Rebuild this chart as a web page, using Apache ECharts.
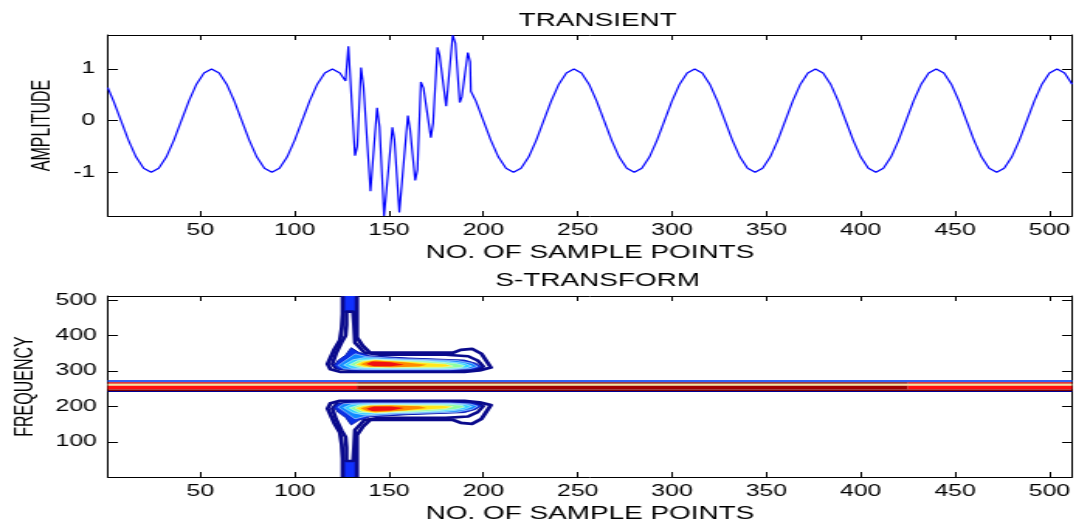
<!DOCTYPE html>
<html>
<head>
<meta charset="utf-8">
<script src="https://cdn.jsdelivr.net/npm/echarts@6/dist/echarts.min.js"></script>
<style>
html,body{margin:0;padding:0;background:#fff;overflow:hidden;}
#c{width:694px;height:527px;transform:scaleX(1.55043);transform-origin:0 0;}
</style>
</head>
<body>
<div id="c"></div>
<script>
// ---------- DATA ----------
const xTicks = [50,100,150,200,250,300,350,400,450,500];
const ampTicks = [-1,0,1];
const freqTicks = [100,200,300,400,500];

const sampleIdx = [1,4,8,12,16,20,24,28,32,36,40,44,48,52,56,60,64,68,72,76,80,84,88,92,96,100,104,108,112,116,120,124,127,
 128.5,132,133.2,135.2,136.5,140.2,143.7,145,147.4,151.8,152.9,155.5,160,161.2,163.9,165.1,166.9,168.3,172.2,173.4,175.7,176.8,180.3,183.8,185.2,187.5,188.6,191.8,193,193.4,
 196,200,204,208,212,216,220,224,228,232,236,240,244,248,252,256,260,264,268,272,276,280,284,288,292,296,300,304,308,312,316,320,324,
 328,332,336,340,344,348,352,356,360,364,368,372,376,380,384,388,392,396,400,404,408,412,416,420,424,428,432,436,440,444,448,452,
 456,460,464,468,472,476,480,484,488,492,496,500,504,508,512];
const amplitude = [0.64,0.383,0,-0.383,-0.707,-0.924,-1,-0.924,-0.707,-0.383,0,0.383,0.707,0.924,1,0.924,0.707,0.383,0,-0.383,-0.707,-0.924,-1,-0.924,-0.707,-0.383,0,0.383,0.707,0.924,1,0.924,0.77,
 1.44,-0.68,-0.50,1.03,0.66,-1.37,0.25,-0.12,-1.85,-0.13,-0.37,-1.78,0.10,-0.18,-1.16,-0.95,0.75,0.63,-0.33,-0.05,1.42,1.27,0.28,1.66,1.50,0.35,0.46,1.32,1.14,0.57,
 0.383,0,-0.383,-0.707,-0.924,-1,-0.924,-0.707,-0.383,0,0.383,0.707,0.924,1,0.924,0.707,0.383,0,-0.383,-0.707,-0.924,-1,-0.924,-0.707,-0.383,0,0.383,0.707,0.924,1,0.924,0.707,0.383,
 0,-0.383,-0.707,-0.924,-1,-0.924,-0.707,-0.383,0,0.383,0.707,0.924,1,0.924,0.707,0.383,0,-0.383,-0.707,-0.924,-1,-0.924,-0.707,-0.383,0,0.383,0.707,0.924,1,0.924,0.707,0.383,
 0,-0.383,-0.707,-0.924,-1,-0.924,-0.707,-0.383,0,0.383,0.707,0.924,1,0.924,0.707];

// S-transform contour outlines (sample, frequency)
const upOuter = [[125.5,516],[125.5,462],[125,420],[124,387],[121,361],[117.5,320],[119,305],[124,298],[140,298],[190,298],[198,302],[204,310],[199,349],[194,363],[188,360],[184,352],[140,352],[136,372],[133,395],[133,516]];
const upSecond = [[127.5,468],[127.5,430],[127,400],[125,382],[122,350],[120,320],[122,308],[130,303],[190,303],[198,307],[200,313],[197,330],[192,342],[180,346],[145,346],[137,352],[132,380],[131.5,430],[131,468]];
const upStem = [[125.5,516],[125.5,465],[133,465],[133,516]];
const upL3 = [[121,316],[123,306],[132,302],[182,302],[195,305],[199,312],[196,322],[190,331],[160,337],[140,343],[134,353],[130,366],[127,345],[123,330]];
const upL4 = [[123,316],[126,306],[135,304],[182,304],[193,307],[197,313],[194,322],[186,330],[155,335],[138,341],[132,349],[128,334]];
const upL5 = [[126,317],[130,308],[140,306],[183,306],[191,309],[194,314],[190,322],[180,328],[150,333],[137,338],[131,332]];
const upL6 = [[129,318],[134,310],[145,308],[183,308],[189,311],[190,316],[185,322],[170,328],[145,333],[134,331]];
const upL7 = [[132,318],[137,311],[148,310],[178,311],[184,314],[180,320],[160,327],[142,332],[136,328]];
const upL8 = [[135,319],[140,312],[152,311],[166,313],[170,318],[158,325],[143,330],[138,326]];
const upL9 = [[138,320],[142,314],[151,314],[158,318],[151,325],[141,327]];

const loOuter = [[125.5,-3],[125.5,52],[125,94],[124,127],[121,153],[117.5,194],[119,209],[124,216],[140,216],[190,216],[198,212],[204,204],[199,165],[194,151],[188,154],[184,162],[140,162],[136,142],[133,119],[133,-3]];
const loSecond = [[127.5,46],[127.5,84],[127,114],[125,132],[122,164],[120,194],[122,206],[130,211],[190,211],[198,207],[200,201],[197,184],[192,172],[180,168],[145,168],[137,162],[132,134],[131.5,84],[131,46]];
const loStem = [[125.5,-3],[125.5,49],[133,49],[133,-3]];
const loL3 = [[121,198],[123,208],[132,212],[182,212],[195,209],[199,202],[196,192],[190,183],[160,177],[140,171],[134,161],[130,148],[127,169],[123,184]];
const loL4 = [[123,198],[126,208],[135,210],[182,210],[193,207],[197,201],[194,192],[186,184],[155,179],[138,173],[132,165],[128,180]];
const loL5 = [[126,197],[130,206],[140,208],[183,208],[191,205],[194,200],[190,192],[180,186],[150,181],[137,176],[131,182]];
const loL6 = [[129,196],[134,204],[145,206],[183,206],[189,203],[190,198],[185,192],[170,186],[145,181],[134,183]];
const loL7 = [[132,196],[137,203],[148,204],[178,203],[184,200],[180,194],[160,187],[142,182],[136,186]];
const loL8 = [[135,195],[140,202],[152,203],[166,201],[170,196],[158,189],[143,184],[138,188]];
const loL9 = [[138,194],[142,200],[151,200],[158,196],[151,189],[141,187]];

// horizontal band at the fundamental: [startSample, endSample, lowFreq, highFreq]
const bandRows = [
  [1,512,268.6,274.5],
  [1,133,264,268.6],[133,425,264,268.6],[425,512,264,268.6],
  [1,512,258.4,264],
  [1,133,248,258.4],[133,425,248,258.4],[425,512,248,258.4],
  [1,512,243.5,248],
  [1,512,240.7,243.5]
];
const bandColors = ['#2f62f4','#e00000','#8a0000','#e00000','#f2e6a0','#ff1010','#a00000','#ff1010','#7a0000','#000090'];

// ---------- DRAWING ----------
const F = 'Liberation Sans';
const NAVY = '#0a0a8c';
const layers = [];
bandRows.forEach((r,i)=>layers.push({pts:[[r[0],r[2]],[r[1],r[2]],[r[1],r[3]],[r[0],r[3]]], fill:bandColors[i]}));
[[upStem,upOuter,upSecond,upL3,upL4,upL5,upL6,upL7,upL8,upL9],[loStem,loOuter,loSecond,loL3,loL4,loL5,loL6,loL7,loL8,loL9]].forEach(g=>{
  layers.push({pts:g[0], fill:'#1030ff'});
  layers.push({pts:g[1], stroke:NAVY, lw:2.8});
  layers.push({pts:g[2], stroke:NAVY, lw:2.6});
  layers.push({pts:g[3], fill:'#0a30e6', stroke:'#0a1cb0', lw:1});
  layers.push({pts:g[4], fill:'#1088ff', stroke:'#ffffff', lw:0.5});
  layers.push({pts:g[5], fill:'#30d2ff', stroke:'#ffffff', lw:0.5});
  layers.push({pts:g[6], fill:'#8cffa0', stroke:'#ffffff', lw:0.5});
  layers.push({pts:g[7], fill:'#ffe81a', stroke:'#ffffff', lw:0.4});
  layers.push({pts:g[8], fill:'#ff8a00'});
  layers.push({pts:g[9], fill:'#f01010'});
});

const labelStyle = {color:'#000', fontSize:16, fontFamily:F};
function xAx(grid, pos, main){
  return {type:'value', gridIndex:grid, position:pos, min:1, max:512,
    axisLine:{show:true, onZero:false, lineStyle:{color:'#000', width:1}},
    axisTick:{show:true, inside:true, length:5, customValues:xTicks, lineStyle:{color:'#000', width:1}},
    axisLabel:Object.assign({show:main, customValues:xTicks, margin:7}, labelStyle),
    splitLine:{show:false},
    name: main ? 'NO. OF SAMPLE POINTS' : '', nameLocation:'middle', nameGap:28,
    nameTextStyle:{color:'#000', fontSize:18, fontFamily:F}};
}
function yAx(grid, pos, main, mn, mx, ticks, name, gap, margin){
  return {type:'value', gridIndex:grid, position:pos, min:mn, max:mx,
    axisLine:{show:true, onZero:false, lineStyle:{color:'#000', width:1}},
    axisTick:{show:true, inside:true, length:6.5, customValues:ticks, lineStyle:{color:'#000', width:1}},
    axisLabel:Object.assign({show:main, customValues:ticks, margin:margin}, labelStyle),
    splitLine:{show:false},
    name: main ? name : '', nameLocation:'middle', nameGap:gap, nameRotate:90,
    nameTextStyle:{color:'#000', fontSize:16, fontFamily:F}};
}

const chart = echarts.init(document.getElementById('c'), null, {renderer:'canvas'});
chart.setOption({
  animation:false,
  backgroundColor:'#fff',
  title:[
    {text:'TRANSIENT', left:380.5, top:7, textAlign:'center', textStyle:{fontSize:18, fontWeight:'normal', color:'#000', fontFamily:F}},
    {text:'S-TRANSFORM', left:380.5, top:267, textAlign:'center', textStyle:{fontSize:18, fontWeight:'normal', color:'#000', fontFamily:F}}
  ],
  grid:[
    {left:69.5, top:35, width:622, height:181, containLabel:false, outerBoundsMode:'none'},
    {left:69.5, top:296, width:622, height:181, containLabel:false, outerBoundsMode:'none'}
  ],
  xAxis:[xAx(0,'bottom',true), xAx(0,'top',false), xAx(1,'bottom',true), xAx(1,'top',false)],
  yAxis:[
    yAx(0,'left',true,-1.85,1.66,ampTicks,'AMPLITUDE',34,8),
    yAx(0,'right',false,-1.85,1.66,ampTicks,'',0,8),
    yAx(1,'left',true,1,512,freqTicks,'FREQUENCY',45,7),
    yAx(1,'right',false,1,512,freqTicks,'',0,7)
  ],
  series:[
    {type:'line', xAxisIndex:0, yAxisIndex:0, data:sampleIdx.map((x,i)=>[x, amplitude[i]]),
     symbol:'none', smooth:false, lineStyle:{color:'#0000ff', width:1.2}, clip:true},
    {type:'custom', xAxisIndex:2, yAxisIndex:2, clip:true,
     data:layers.map((l,i)=>[i]),
     encode:{x:-1, y:-1},
     renderItem:function(params, api){
       const L = layers[params.dataIndex];
       const pts = L.pts.map(p=>api.coord(p));
       return {type:'polygon', shape:{points:pts},
         style:{fill:L.fill||'none', stroke:L.stroke||'none', lineWidth:L.lw||0, lineJoin:'round'}};
     }}
  ]
});
</script>
</body>
</html>
